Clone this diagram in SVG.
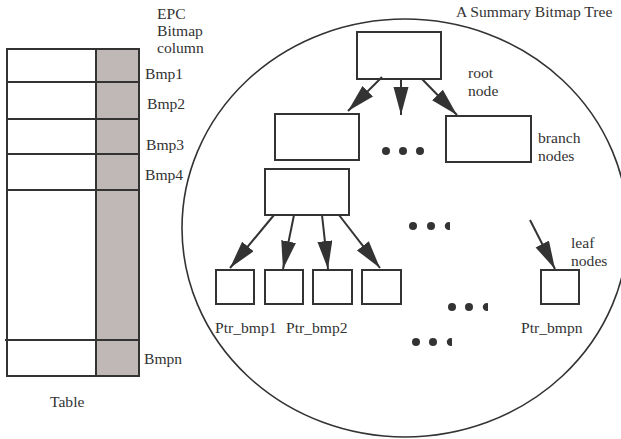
<svg xmlns="http://www.w3.org/2000/svg" width="621" height="439" viewBox="0 0 621 439">
  <style>
    text { font-family: "Liberation Serif", "Times New Roman", serif; font-size: 15.6px; fill: #333; }
    .box { fill: #fff; stroke: #333; stroke-width: 2; }
    .grid { stroke: #333; stroke-width: 2; fill: none; }
    .edge { stroke: #333; stroke-width: 2; fill: none; marker-end: url(#head); }
    .dot { fill: #333; }
  </style>
  <defs>
    <marker id="head" markerUnits="userSpaceOnUse" markerWidth="30" markerHeight="16" refX="28" refY="7.5" orient="auto">
      <path d="M0,0 L28,7.5 L0,15 Z" fill="#333"/>
    </marker>
  </defs>

  <!-- Table with the EPC bitmap column -->
  <g id="table">
    <rect x="7" y="49" width="132" height="327" fill="#fff"/>
    <rect x="96" y="49" width="43" height="327" fill="#c0b8b6"/>
    <rect x="7" y="49" width="132" height="327" class="grid"/>
    <line x1="96" y1="49" x2="96" y2="376" class="grid"/>
    <line x1="7" y1="82" x2="139" y2="82" class="grid"/>
    <line x1="7" y1="119" x2="139" y2="119" class="grid"/>
    <line x1="7" y1="154" x2="139" y2="154" class="grid"/>
    <line x1="7" y1="190" x2="139" y2="190" class="grid"/>
    <line x1="5" y1="340" x2="139" y2="340" class="grid"/>
    <text x="157" y="19">EPC</text>
    <text x="157" y="36">Bitmap</text>
    <text x="157" y="53">column</text>
    <text x="145" y="79">Bmp1</text>
    <text x="147" y="109">Bmp2</text>
    <text x="146" y="150">Bmp3</text>
    <text x="145" y="180">Bmp4</text>
    <text x="144" y="364">Bmpn</text>
    <text x="50" y="407">Table</text>
  </g>

  <!-- Tree outline -->
  <g id="tree">
    <ellipse cx="405" cy="228" rx="223" ry="209" fill="none" stroke="#333" stroke-width="1.6"/>
    <text x="456" y="17">A Summary Bitmap Tree</text>
  </g>

  <g id="root">
    <rect x="357" y="32" width="84" height="47" class="box"/>
    <text x="468" y="78">root</text>
    <text x="468" y="96">node</text>
  </g>

  <g id="branch-left">
    <rect x="275" y="114" width="84" height="46" class="box"/>
  </g>
  <g id="branch-right">
    <rect x="446" y="116" width="85" height="46" class="box"/>
    <text x="538" y="143">branch</text>
    <text x="538" y="161">nodes</text>
  </g>
  <g id="branch-mid">
    <rect x="265" y="169" width="84" height="46" class="box"/>
  </g>

  <g id="leaf1">
    <rect x="216" y="270" width="38" height="34" class="box"/>
    <text x="215" y="333">Ptr_bmp1</text>
  </g>
  <g id="leaf2">
    <rect x="265" y="270" width="38" height="34" class="box"/>
    <text x="286" y="333">Ptr_bmp2</text>
  </g>
  <g id="leaf3">
    <rect x="313" y="270" width="39" height="34" class="box"/>
  </g>
  <g id="leaf4">
    <rect x="362" y="270" width="39" height="34" class="box"/>
  </g>
  <g id="leafn">
    <rect x="541" y="270" width="38" height="34" class="box"/>
    <text x="571" y="248">leaf</text>
    <text x="571" y="266">nodes</text>
    <text x="521" y="333">Ptr_bmpn</text>
  </g>

  <!-- Ellipsis dots -->
  <g id="ellipses">
    <circle cx="386" cy="151" r="4" class="dot"/>
    <circle cx="403" cy="151" r="4" class="dot"/>
    <circle cx="420" cy="151" r="4" class="dot"/>
    <circle cx="413" cy="226" r="4" class="dot"/>
    <circle cx="431" cy="226" r="4" class="dot"/>
    <path d="M450,222.2 A4,4 0 1 0 450,229.8 Z" class="dot"/>
    <circle cx="452" cy="307" r="4" class="dot"/>
    <circle cx="469" cy="307" r="4" class="dot"/>
    <path d="M488,303.2 A4,4 0 1 0 488,310.8 Z" class="dot"/>
    <circle cx="416" cy="342" r="4" class="dot"/>
    <circle cx="433" cy="342" r="4" class="dot"/>
    <path d="M452,338.2 A4,4 0 1 0 452,345.8 Z" class="dot"/>
  </g>

  <!-- Connectors -->
  <g id="connectors">
    <line x1="382" y1="77" x2="348" y2="111" class="edge"/>
    <line x1="401" y1="79" x2="401" y2="115" class="edge"/>
    <line x1="422" y1="79" x2="457" y2="115" class="edge"/>
    <line x1="274" y1="215" x2="230" y2="268" class="edge"/>
    <line x1="294" y1="215" x2="283" y2="269" class="edge"/>
    <line x1="322" y1="215" x2="328" y2="269" class="edge"/>
    <line x1="339" y1="215" x2="380" y2="268" class="edge"/>
    <line x1="530" y1="220" x2="555" y2="269" class="edge"/>
  </g>
</svg>
